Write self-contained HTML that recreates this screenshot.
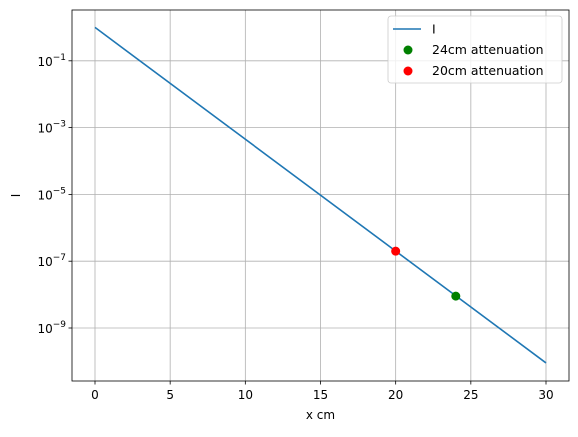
<!DOCTYPE html>
<html><head><meta charset="utf-8"><style>
body{margin:0;background:#fff}
svg{font-family:"DejaVu Sans","Liberation Sans",sans-serif}
</style></head><body>
<svg id="c" width="578" height="432"></svg>
<script>
const lineX=[0,30];
const lineI=[1,9e-11];
const pt24=[24,9e-9];
const pt20=[20,2e-7];
const xTicks=[0,5,10,15,20,25,30];
const yExps=[-9,-7,-5,-3,-1];
const L=72,R=569,T=10,B=381;
const sx=v=>95+(v-0)*(546-95)/30;
const sy=v=>328-(Math.log10(v)+9)*33.4;
const svg=document.getElementById('c');
const NS='http://www.w3.org/2000/svg';
function mk(t,a,txt){const e=document.createElementNS(NS,t);for(const k in a)e.setAttribute(k,a[k]);if(txt!=null)e.textContent=txt;svg.appendChild(e);return e;}
xTicks.forEach(v=>{const x=sx(v);
let g=mk('line',{x1:x,x2:x,y1:T,y2:B,stroke:'#b0b0b0','stroke-width':0.8});


let t=mk('line',{x1:x,x2:x,y1:B,y2:B+3.5,stroke:'#000','stroke-width':0.8});


let l=mk('text',{x:x,y:B+18,'font-size':12,'text-anchor':'middle'},String(v));

});
yExps.forEach(e=>{const y=sy(Math.pow(10,e));
let g=mk('line',{x1:L,x2:R,y1:y,y2:y,stroke:'#b0b0b0','stroke-width':0.8});


let t=mk('line',{x1:L-3.5,x2:L,y1:y,y2:y,stroke:'#000','stroke-width':0.8});


let l=mk('text',{x:L-6,y:y+5,'font-size':12,'text-anchor':'end'});
l.innerHTML='10<tspan dy="-6" font-size="9">\u2212'+Math.abs(e)+'</tspan>';

});
let ln=mk('polyline',{points:lineX.map((x,i)=>sx(x)+','+sy(lineI[i])).join(' '),fill:'none',stroke:'#1f77b4','stroke-width':1.6});


let p1=mk('circle',{cx:sx(pt24[0]),cy:sy(pt24[1]),r:4.5,fill:'green'});


let p2=mk('circle',{cx:sx(pt20[0]),cy:sy(pt20[1]),r:4.5,fill:'red'});


let fr=mk('rect',{x:L,y:T,width:R-L,height:B-T,fill:'none',stroke:'#000','stroke-width':0.8});


let xt=mk('text',{x:(L+R)/2,y:419,'font-size':12,'text-anchor':'middle'},'x cm');


let yt=mk('text',{x:20,y:(T+B)/2,'font-size':12,'text-anchor':'middle',transform:'rotate(-90 20 '+((T+B)/2)+')'},'I');


let lg=mk('rect',{x:388,y:16,width:174,height:67,rx:3,fill:'#fff','fill-opacity':0.8,stroke:'#ccc','stroke-width':0.8});


let l1=mk('line',{x1:393,x2:421,y1:29,y2:29,stroke:'#1f77b4','stroke-width':1.6});


let l1t=mk('text',{x:432,y:33.5,'font-size':12.5},'I');


let c1=mk('circle',{cx:408,cy:50,r:4.5,fill:'green'});


let c1t=mk('text',{x:432,y:54,'font-size':12.5},'24cm attenuation');


let c2=mk('circle',{cx:408,cy:71,r:4.5,fill:'red'});


let c2t=mk('text',{x:432,y:75,'font-size':12.5},'20cm attenuation');


</script>
</body></html>
